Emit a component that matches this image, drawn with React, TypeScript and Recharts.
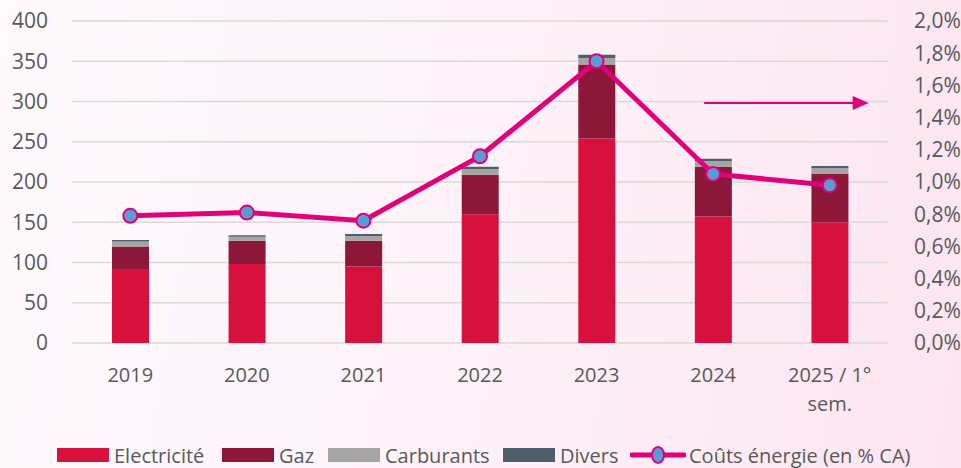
import {
  ComposedChart,
  Bar,
  Line,
  XAxis,
  YAxis,
  CartesianGrid,
  ReferenceLine,
} from "recharts";

const annees = ["2019", "2020", "2021", "2022", "2023", "2024", "2025 / 1° sem."];
const electricite = [92, 98, 95, 160, 254, 157, 150];
const gaz = [28, 29, 32, 49, 92, 62, 60];
const carburants = [6, 5, 6, 7, 8, 7, 7];
const divers = [2, 2, 2.5, 3, 4, 3, 3];
const coutsPct = [0.0079, 0.0081, 0.0076, 0.0116, 0.0175, 0.0105, 0.0098];
const ticksGauche = [0, 50, 100, 150, 200, 250, 300, 350, 400];
const ticksDroite = [0, 0.002, 0.004, 0.006, 0.008, 0.01, 0.012, 0.014, 0.016, 0.018, 0.02];
const niveauFleche = 0.0149;

const data = annees.map((annee, i) => ({
  annee,
  electricite: electricite[i],
  gaz: gaz[i],
  carburants: carburants[i],
  divers: divers[i],
  couts: coutsPct[i],
}));

const FONT = "'Open Sans', sans-serif";
const TXT = "#595959";
const ROSE = "#E2007A";
const BLEU = "#5B9BD5";

const COLORS = {
  electricite: "#D7103D",
  gaz: "#8C1739",
  carburants: "#A5A5A5",
  divers: "#4E5F6B",
};

const fmtPct = (v: number) => (v * 100).toFixed(1).replace(".", ",") + "%";

function XTick(props: any) {
  const { x, y, payload } = props;
  const parts =
    payload.value === "2025 / 1° sem." ? ["2025 / 1°", "sem."] : [payload.value];
  return (
    <text x={x} y={y} textAnchor="middle" fill={TXT} fontSize={20} fontFamily={FONT}>
      {parts.map((p: string, i: number) => (
        <tspan key={i} x={x} dy={i === 0 ? 31 : 29}>
          {p}
        </tspan>
      ))}
    </text>
  );
}

function Fleche(props: any) {
  const { x1, y1, x2 } = props;
  if (x1 == null) return null;
  const xa = x1 - 9;
  const xb = x2 + 39;
  return (
    <g>
      <line x1={xa} y1={y1} x2={xb - 10} y2={y1} stroke={ROSE} strokeWidth={2} />
      <polygon
        points={`${xb - 16},${y1 - 7} ${xb},${y1} ${xb - 16},${y1 + 7}`}
        fill={ROSE}
      />
    </g>
  );
}

// positions horizontales des entrées de légende (comme dans l'original)
const legendeX = [57, 222, 328, 503, 630];

function Legende() {
  const items = [
    { label: "Electricité", color: COLORS.electricite },
    { label: "Gaz", color: COLORS.gaz },
    { label: "Carburants", color: COLORS.carburants },
    { label: "Divers", color: COLORS.divers },
  ];
  const base: React.CSSProperties = {
    position: "absolute",
    top: 443,
    height: 24,
    display: "flex",
    alignItems: "center",
    fontFamily: FONT,
    fontSize: 20,
    color: TXT,
    whiteSpace: "nowrap",
  };
  return (
    <>
      {items.map((it, i) => (
        <div key={it.label} style={{ ...base, left: legendeX[i] }}>
          <span
            style={{
              display: "inline-block",
              width: 52,
              height: 14,
              background: it.color,
              marginRight: 5,
            }}
          />
          {it.label}
        </div>
      ))}
      <div style={{ ...base, left: legendeX[4] }}>
        <svg width={56} height={20} style={{ marginRight: 3 }}>
          <line x1={2} y1={10} x2={54} y2={10} stroke={ROSE} strokeWidth={5} strokeLinecap="round" />
          <ellipse cx={28} cy={10} rx={6} ry={8} fill={BLEU} stroke={ROSE} strokeWidth={2} />
        </svg>
        Coûts énergie (en % CA)
      </div>
    </>
  );
}

export default function App() {
  return (
    <div
      style={{
        position: "fixed",
        left: 0,
        top: 0,
        width: 961,
        height: 468,
        background: "linear-gradient(100deg, #FEF9FC 0%, #FDF2F8 50%, #FCE5F0 100%)",
        overflow: "hidden",
      }}
    >
      <ComposedChart
        width={961}
        height={468}
        data={data}
        margin={{ top: 21, right: 0, bottom: 53, left: 0 }}
        style={{ fontFamily: FONT }}
      >
        <CartesianGrid vertical={false} stroke="#D9D9D9" strokeWidth={1.5} yAxisId="g" />
        <XAxis
          dataKey="annee"
          axisLine={false}
          tickLine={false}
          tick={<XTick />}
          height={72}
          interval={0}
        />
        <YAxis
          yAxisId="g"
          domain={[0, 400]}
          ticks={ticksGauche}
          axisLine={false}
          tickLine={false}
          width={72}
          tick={{ fill: TXT, fontSize: 21, fontFamily: FONT }}
          tickMargin={18}
        />
        <YAxis
          yAxisId="d"
          orientation="right"
          domain={[0, 0.02]}
          ticks={ticksDroite}
          tickFormatter={fmtPct}
          axisLine={false}
          tickLine={false}
          width={73}
          tick={{ fill: TXT, fontSize: 21, fontFamily: FONT, textAnchor: "start" }}
          tickMargin={20}
        />
        <Bar yAxisId="g" dataKey="electricite" stackId="s" fill={COLORS.electricite} barSize={37} isAnimationActive={false} />
        <Bar yAxisId="g" dataKey="gaz" stackId="s" fill={COLORS.gaz} barSize={37} isAnimationActive={false} />
        <Bar yAxisId="g" dataKey="carburants" stackId="s" fill={COLORS.carburants} barSize={37} isAnimationActive={false} />
        <Bar yAxisId="g" dataKey="divers" stackId="s" fill={COLORS.divers} barSize={37} isAnimationActive={false} />
        <Line
          yAxisId="d"
          dataKey="couts"
          stroke={ROSE}
          strokeWidth={5}
          dot={{ r: 7, fill: BLEU, stroke: ROSE, strokeWidth: 2 }}
          isAnimationActive={false}
        />
        <ReferenceLine
          yAxisId="d"
          segment={[
            { x: annees[5], y: niveauFleche },
            { x: annees[6], y: niveauFleche },
          ]}
          shape={<Fleche />}
        />
      </ComposedChart>
      <Legende />
    </div>
  );
}
